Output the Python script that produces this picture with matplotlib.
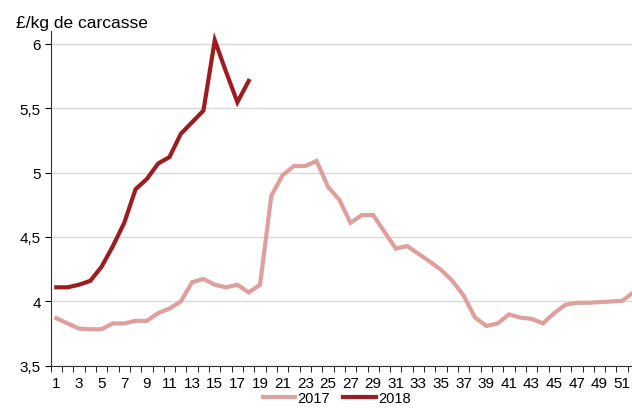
import numpy as np
import matplotlib.pyplot as plt

plt.rcParams['font.family'] = ['Liberation Sans', 'DejaVu Sans']
plt.rcParams['font.size'] = 11

weeks_2017 = list(range(1, 53))
price_2017 = [3.87, 3.83, 3.79, 3.785, 3.785, 3.83, 3.83, 3.85, 3.85, 3.91,
              3.945, 4.0, 4.15, 4.175, 4.13, 4.11, 4.13, 4.07, 4.13, 4.82,
              4.98, 5.05, 5.05, 5.09, 4.89, 4.79, 4.61, 4.67, 4.67, 4.54,
              4.41, 4.43, 4.37, 4.31, 4.245, 4.16, 4.045, 3.876, 3.81, 3.83,
              3.90, 3.875, 3.865, 3.83, 3.91, 3.975, 3.99, 3.99, 3.995, 4.0,
              4.005, 4.07]
weeks_2018 = list(range(1, 19))
price_2018 = [4.11, 4.11, 4.13, 4.16, 4.27, 4.43, 4.61, 4.87, 4.95, 5.07,
              5.12, 5.30, 5.39, 5.48, 6.025, 5.78, 5.545, 5.71]

xtick_labels = [str(w) for w in range(1, 52, 2)]
yticks = [3.5, 4, 4.5, 5, 5.5, 6]
ytick_labels = ['3,5', '4', '4,5', '5', '5,5', '6']

fig = plt.figure(figsize=(6.32, 4.10), dpi=100)
ax = fig.add_axes([0.0802, 0.1049, 0.931, 0.818])

ax.plot(weeks_2017, price_2017, color='#DE9F9D', lw=3, label='2017',
        solid_joinstyle='miter', zorder=3)
ax.plot(weeks_2018, price_2018, color='#9E1B20', lw=3, label='2018',
        solid_joinstyle='miter', zorder=4)

ax.set_xlim(0.5, 52.5)
ax.set_ylim(3.5, 6.1)
ax.set_yticks(yticks)
ax.set_yticklabels(ytick_labels)
ax.set_xticks(range(1, 52, 2))
ax.set_xticklabels(xtick_labels)
ax.set_xticks(np.arange(0.5, 53, 1), minor=True)
ax.tick_params(axis='x', which='major', length=0, pad=7)
ax.tick_params(axis='x', which='minor', length=4, direction='out')
ax.tick_params(axis='y', length=4, direction='out', pad=3)

ax.grid(axis='y', color='#D9D9D9', lw=1)
ax.set_axisbelow(True)
for s in ['top', 'right']:
    ax.spines[s].set_visible(False)
ax.spines['left'].set_color('#333333')
ax.spines['bottom'].set_color('#333333')

fig.text(0.025, 0.932, '£/kg de carcasse', fontsize=12.5, va='baseline')

fig.legend(loc='lower center', bbox_to_anchor=(0.533, -0.022), ncol=2,
           frameon=False, fontsize=10.5, handlelength=2.25,
           columnspacing=0.9, handletextpad=0.15)

fig.savefig('out.png', dpi=100)
